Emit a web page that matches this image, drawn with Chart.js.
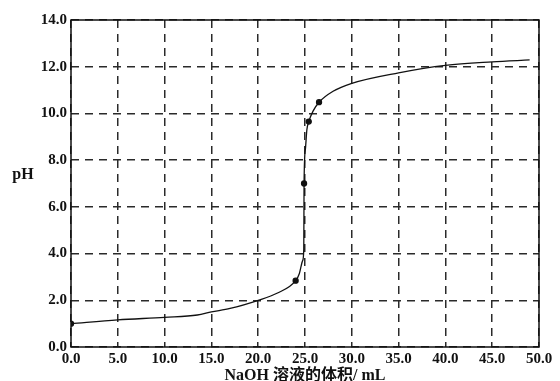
<!DOCTYPE html>
<html>
<head>
<meta charset="utf-8">
<script src="https://cdn.jsdelivr.net/npm/chart.js@4"></script>
<style>
html, body { margin: 0; padding: 0; background: #fff; }
</style>
</head>
<body>
<canvas id="ph-chart" width="560" height="381"></canvas>
<script>
// NaOH volume (mL) and measured pH
var volume = [0, 5, 10, 13.5, 15, 17, 20, 22, 24, 24.4, 24.75, 24.87, 24.9, 25.05, 25.2, 25.4, 25.86, 26.5, 28, 30, 35, 40, 45, 49];
var ph     = [1.0, 1.16, 1.27, 1.37, 1.5, 1.65, 2.0, 2.3, 2.84, 3.15, 3.7, 4.2, 7.0, 8.5, 9.3, 9.65, 10.1, 10.48, 10.95, 11.29, 11.74, 12.06, 12.21, 12.29];
// points drawn with a dot
var marked = [0, 24, 24.9, 25.4, 26.5];

var xTicks = [0, 5, 10, 15, 20, 25, 30, 35, 40, 45, 50];
var yTicks = [0, 2, 4, 6, 8, 10, 12, 14];

var serif = '"Liberation Serif", "Times New Roman", "Noto Sans CJK SC", serif';

var points = volume.map(function (v, i) { return { x: v, y: ph[i] }; });
var radii = volume.map(function (v) { return marked.indexOf(v) >= 0 ? 2.5 : 0; });

var frame = {
  id: 'frame',
  afterDraw: function (chart) {
    var a = chart.chartArea, ctx = chart.ctx;
    ctx.save();
    ctx.strokeStyle = '#111';
    ctx.lineWidth = 1.5;
    ctx.strokeRect(a.left, a.top, a.right - a.left, a.bottom - a.top);
    // horizontal y title
    ctx.fillStyle = '#111';
    ctx.font = 'bold 16px ' + serif;
    ctx.textAlign = 'center';
    ctx.textBaseline = 'middle';
    ctx.fillText('pH', 23, 175);
    ctx.restore();
  }
};

new Chart(document.getElementById('ph-chart'), {
  type: 'line',
  data: {
    datasets: [{
      data: points,
      borderColor: '#111',
      borderWidth: 1.3,
      backgroundColor: '#111',
      pointRadius: radii,
      pointHoverRadius: radii,
      cubicInterpolationMode: 'monotone',
      fill: false
    }]
  },
  options: {
    responsive: false,
    animation: false,
    layout: { padding: { left: 0, top: 20, right: 21, bottom: 0 } },
    plugins: { legend: { display: false }, tooltip: { enabled: false } },
    scales: {
      x: {
        type: 'linear',
        min: 0,
        max: 50,
        afterFit: function (s) { s.height = 34; },
        afterBuildTicks: function (s) { s.ticks = xTicks.map(function (v) { return { value: v }; }); },
        grid: { color: '#2a2a2a', lineWidth: 1.5, drawTicks: false },
        border: { display: false, dash: [8, 6] },
        ticks: {
          padding: 3,
          color: '#111',
          maxRotation: 0,
          font: { family: serif, size: 15, weight: 'bold' },
          callback: function (v) { return v.toFixed(1); }
        },
        title: {
          display: true,
          text: 'NaOH 溶液的体积/ mL',
          color: '#111',
          padding: { top: 0, bottom: 0 },
          font: { family: serif, size: 16, weight: 'bold', lineHeight: 0.7 }
        }
      },
      y: {
        min: 0,
        max: 14,
        afterFit: function (s) { s.width = 71; },
        afterBuildTicks: function (s) { s.ticks = yTicks.map(function (v) { return { value: v }; }); },
        grid: { color: '#2a2a2a', lineWidth: 1.5, drawTicks: false },
        border: { display: false, dash: [8, 6] },
        ticks: {
          padding: 4,
          color: '#111',
          font: { family: serif, size: 15, weight: 'bold' },
          callback: function (v) { return v.toFixed(1); }
        }
      }
    }
  },
  plugins: [frame]
});
</script>
</body>
</html>
